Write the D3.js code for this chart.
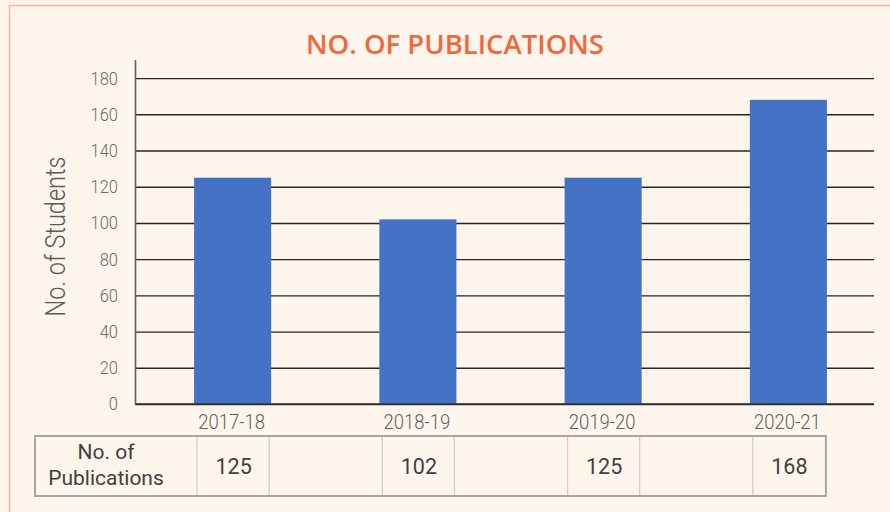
<!DOCTYPE html>
<html>
<head>
<meta charset="utf-8">
<script src="https://cdn.jsdelivr.net/npm/d3@7"></script>
<style>
  body { margin: 0; background: #fef5ec; }
  svg { display: block; }
</style>
</head>
<body>
<div id="chart"></div>
<script>
// data
const years = ["2017-18", "2018-19", "2019-20", "2020-21"];
const publications = [125, 102, 125, 168];
const yTicks = [0, 20, 40, 60, 80, 100, 120, 140, 160, 180];
const rowLabel = ["No. of", "Publications"];

const wsvg = 890;
const hsvg = 512;

const svg = d3.select("#chart").append("svg")
    .attr("width", wsvg)
    .attr("height", hsvg);

// background + frame
svg.append("rect")
    .attr("width", wsvg).attr("height", hsvg)
    .attr("fill", "#fef5ec");
svg.append("rect")
    .attr("x", 9.5).attr("y", 5.5)
    .attr("width", wsvg).attr("height", hsvg)
    .attr("fill", "none")
    .attr("stroke", "#f8b79c")
    .attr("stroke-width", 1.5);

// title
svg.append("text")
    .attr("x", 455).attr("y", 53.5)
    .attr("text-anchor", "middle")
    .attr("font-family", "'Open Sans'")
    .attr("font-weight", 600)
    .attr("font-size", 27.5)
    .attr("fill", "#f4673b")
    .text("NO. OF PUBLICATIONS");

const plotLeft = 135.5, plotRight = 874;
const plotTop = 60, plotBottom = 404;

const xScale = d3.scaleBand(years, [140, 881])
    .paddingInner(0.584)
    .paddingOuter(0.292);
const yScale = d3.scaleLinear([0, 190], [plotBottom, plotTop]);

// y axis with gridlines
const yAxisG = svg.append("g")
    .attr("transform", `translate(${plotLeft},0)`)
    .call(d3.axisLeft(yScale).tickValues(yTicks).tickSize(-(plotRight - plotLeft)).tickPadding(20));
yAxisG.select(".domain").remove();
yAxisG.selectAll(".tick line")
    .attr("stroke", "#262626")
    .attr("stroke-width", 1.4);
yAxisG.selectAll(".tick text")
    .attr("font-family", "Roboto")
    .attr("font-weight", 300)
    .attr("font-size", 18.7)
    .attr("fill", "#6a6a6a")
    .attr("transform", "scale(0.88,1)");

// bars
svg.selectAll(".bar")
    .data(publications)
    .enter()
    .append("rect")
    .attr("class", "bar")
    .attr("x", (d, i) => xScale(years[i]))
    .attr("y", d => yScale(d))
    .attr("width", xScale.bandwidth())
    .attr("height", d => yScale(0) - yScale(d))
    .attr("fill", "#4472c4");

// axis lines
svg.append("line")
    .attr("x1", plotLeft).attr("x2", plotLeft)
    .attr("y1", plotTop).attr("y2", plotBottom + 1)
    .attr("stroke", "#5f5f5f").attr("stroke-width", 1.6);
svg.append("line")
    .attr("x1", plotLeft).attr("x2", plotRight)
    .attr("y1", plotBottom).attr("y2", plotBottom)
    .attr("stroke", "#333").attr("stroke-width", 1.5);

// category labels
svg.selectAll(".xlab")
    .data(years)
    .enter()
    .append("text")
    .attr("class", "xlab")
    .attr("transform", d => `translate(${xScale(d) + xScale.bandwidth() / 2 - 1},428.5) scale(0.88,1)`)
    .attr("text-anchor", "middle")
    .attr("font-family", "Roboto")
    .attr("font-weight", 300)
    .attr("font-size", 21)
    .attr("fill", "#5f5f5f")
    .text(d => d);

// y title
svg.append("text")
    .attr("transform", "translate(65,236.5) rotate(-90) scale(0.84,1)")
    .attr("text-anchor", "middle")
    .attr("font-family", "Roboto")
    .attr("font-weight", 300)
    .attr("font-size", 28)
    .attr("fill", "#595959")
    .text("No. of Students");

// data table
const tTop = 436, tBottom = 496, tLeft = 35;
const tRight = xScale(years[years.length - 1]) + xScale.bandwidth() - 1;
const table = svg.append("g");

const edges = [];
years.forEach(y => {
    edges.push(xScale(y) + 3, xScale(y) + xScale.bandwidth() - 2);
});
edges.pop();

table.selectAll("line")
    .data(edges)
    .enter()
    .append("line")
    .attr("x1", d => d).attr("x2", d => d)
    .attr("y1", tTop).attr("y2", tBottom)
    .attr("stroke", "#cfcfcf")
    .attr("stroke-width", 1.3);

table.append("rect")
    .attr("x", tLeft).attr("y", tTop)
    .attr("width", tRight - tLeft).attr("height", tBottom - tTop)
    .attr("fill", "none")
    .attr("stroke", "#a6a6a6")
    .attr("stroke-width", 2);

table.selectAll(".rowlab")
    .data(rowLabel)
    .enter()
    .append("text")
    .attr("class", "rowlab")
    .attr("x", 106)
    .attr("y", (d, i) => 459 + i * 26)
    .attr("text-anchor", "middle")
    .attr("font-family", "Roboto")
    .attr("font-size", 21)
    .attr("fill", "#404040")
    .text(d => d);

table.selectAll(".val")
    .data(publications)
    .enter()
    .append("text")
    .attr("class", "val")
    .attr("x", (d, i) => xScale(years[i]) + xScale.bandwidth() / 2 + 1)
    .attr("y", 473.5)
    .attr("text-anchor", "middle")
    .attr("font-family", "Roboto")
    .attr("font-size", 21.5)
    .attr("fill", "#404040")
    .text(d => d);
</script>
</body>
</html>
